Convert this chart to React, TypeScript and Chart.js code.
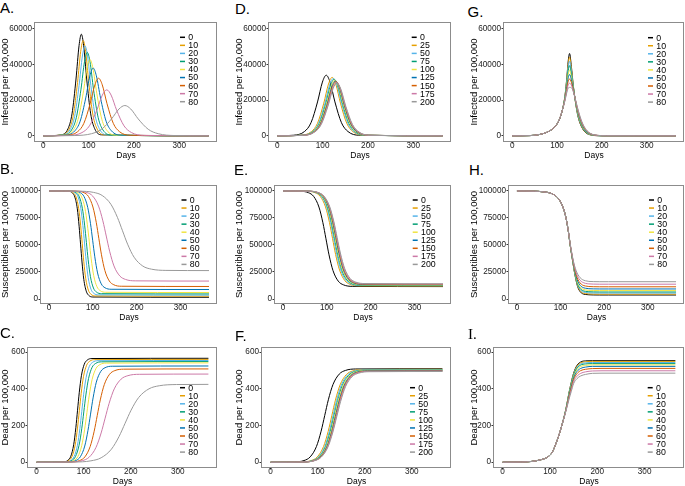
import React, { useEffect, useRef } from "react";
import { Chart, registerables } from "chart.js";

Chart.register(...registerables);

const FONT = "'Liberation Sans', Arial, Helvetica, sans-serif";

const seriesColors = ["#000000", "#E69F00", "#56B4E9", "#009E73", "#F0E442", "#0072B2", "#D55E00", "#CC79A7", "#999999"];
const reductionLabels = ["0", "10", "20", "30", "40", "50", "60", "70", "80"];
const delayLabels = ["0", "25", "50", "75", "100", "125", "150", "175", "200"];
const dayTicks = [0, 100, 200, 300];
const infectedTicks = [0, 20000, 40000, 60000];
const susceptibleTicks = [0, 25000, 50000, 75000, 100000];
const deadTicks = [0, 200, 400, 600];

// Panel A: infected, [day, value]
const infectedA = [
  [[0,0],[39.9,564],[54.6,4030],[63.4,12323],[72.2,31869],[78.9,50548],[84,57000],[89.1,50548],[95.8,31869],[104.6,12323],[113.4,4030],[128.1,564],[365,0]],
  [[0,0],[41.5,530],[57,3782],[66.3,11567],[75.6,29912],[82.6,47444],[88,53500],[93.4,47444],[100.4,29912],[109.7,11567],[119,3782],[134.5,530],[365,0]],
  [[0,0],[43.1,500],[59.4,3570],[69.2,10918],[79,28235],[86.3,44783],[92,50500],[97.7,44783],[105,28235],[114.8,10918],[124.6,3570],[140.9,500],[365,0]],
  [[0,0],[45.1,463],[62.4,3309],[72.8,10118],[83.2,26166],[90.9,41502],[97,46800],[103.1,41502],[110.8,26166],[121.2,10118],[131.6,3309],[148.9,463],[365,0]],
  [[0,0],[46.9,424],[65.6,3026],[76.8,9253],[88,23929],[96.5,37955],[103,42800],[109.5,37955],[118,23929],[129.2,9253],[140.4,3026],[159.1,424],[365,0]],
  [[0,0],[48.8,376],[69.2,2687],[81.4,8216],[93.7,21246],[102.9,33698],[110,38000],[117.1,33698],[126.3,21246],[138.6,8216],[150.8,2687],[171.2,376],[365,0]],
  [[0,0],[52.4,320],[75.6,2284],[89.5,6983],[103.4,18059],[113.9,28644],[122,32300],[130.1,28644],[140.6,18059],[154.5,6983],[168.4,2284],[191.6,320],[365,0]],
  [[0,0],[58.1,255],[85.4,1824],[101.8,5578],[118.2,14425],[130.4,22879],[140,25800],[149.6,22879],[161.8,14425],[178.2,5578],[194.6,1824],[221.9,255],[365,0]],
  [[0,0],[69.6,168],[106.4,1202],[128.5,3675],[150.6,9505],[167.1,15076],[180,17000],[192.9,15076],[209.4,9505],[231.5,3675],[253.6,1202],[290.4,168],[365,0]],
];

// Panel B: susceptibles
const susceptibleB = [
  [[0,100000],[44.1,99757],[53.4,98229],[59,94362],[64.6,83469],[68.7,67351],[72,50800],[75.3,34249],[79.4,18131],[85,7238],[90.6,3371],[99.9,1843],[365,1600]],
  [[0,100000],[45.8,99759],[55.8,98247],[61.8,94419],[67.8,83637],[72.3,67683],[75.8,51300],[79.3,34917],[83.8,18963],[89.8,8181],[95.8,4353],[105.8,2841],[365,2600]],
  [[0,100000],[49.5,99762],[60,98265],[66.3,94476],[72.6,83805],[77.3,68014],[81,51800],[84.7,35586],[89.4,19795],[95.7,9124],[102,5335],[112.5,3838],[365,3600]],
  [[0,100000],[50.8,99765],[62.3,98285],[69.2,94539],[76.1,83990],[81.3,68379],[85.3,52350],[89.3,36321],[94.5,20710],[101.4,10161],[108.3,6415],[119.8,4935],[365,4700]],
  [[0,100000],[54.4,99768],[66.9,98308],[74.4,94614],[81.9,84208],[87.5,68811],[91.9,53000],[96.3,37189],[101.9,21792],[109.4,11386],[116.9,7692],[129.4,6232],[365,6000]],
  [[0,100000],[57.6,99775],[71.6,98358],[80,94774],[88.4,84678],[94.7,69740],[99.6,54400],[104.5,39060],[110.8,24122],[119.2,14026],[127.6,10442],[141.6,9025],[365,8800]],
  [[0,100000],[62.8,99782],[79.8,98409],[90,94935],[100.2,85149],[107.9,70669],[113.8,55800],[119.7,40931],[127.4,26451],[137.6,16665],[147.8,13191],[164.8,11818],[365,11600]],
  [[0,100000],[64.6,99794],[86.6,98499],[99.8,95221],[113,85989],[122.9,72328],[130.6,58300],[138.3,44272],[148.2,30611],[161.4,21379],[174.6,18101],[196.6,16806],[365,16600]],
  [[0,100000],[68.7,99818],[101.7,98673],[121.5,95777],[141.3,87618],[156.1,75546],[167.7,63150],[179.3,50754],[194.1,38682],[213.9,30523],[233.7,27627],[266.7,26482],[365,26300]],
];

// Panel C: dead
const deadC = [
  [[0,0],[56.4,1.4],[66.6,10.2],[72.7,32.4],[78.8,95.1],[83.4,187.8],[87,283],[90.6,378.2],[95.2,470.9],[101.3,533.6],[107.4,555.8],[117.6,564.6],[365,566]],
  [[0,0],[57.8,1.4],[68.8,10.1],[75.4,32.1],[82,94.1],[86.9,185.8],[90.8,280],[94.7,374.2],[99.6,465.9],[106.2,527.9],[112.8,549.9],[123.8,558.6],[365,560]],
  [[0,0],[61.5,1.4],[73,10],[79.9,31.7],[86.8,93.1],[92,183.8],[96,277],[100,370.2],[105.2,460.9],[112.1,522.3],[119,544],[130.5,552.6],[365,554]],
  [[0,0],[62.5,1.4],[75.1,9.9],[82.7,31.4],[90.2,92.1],[95.9,181.8],[100.3,274],[104.7,366.2],[110.4,455.9],[117.9,516.6],[125.5,538.1],[138.1,546.6],[365,548]],
  [[0,0],[65.8,1.3],[79.5,9.7],[87.7,31],[95.9,90.9],[102.1,179.5],[106.9,270.5],[111.7,361.5],[117.9,450.1],[126.1,510],[134.3,531.3],[148,539.7],[365,541]],
  [[0,0],[68.4,1.3],[83.8,9.4],[93,30],[102.3,88],[109.2,173.9],[114.6,262],[120,350.1],[126.9,436],[136.2,494],[145.4,514.6],[160.8,522.7],[365,524]],
  [[0,0],[72.7,1.3],[91.4,9.1],[102.6,29.1],[113.8,85.3],[122.3,168.6],[128.8,254],[135.3,339.4],[143.8,422.7],[155,478.9],[166.2,498.9],[184.9,506.7],[365,508]],
  [[0,0],[73,1.2],[97.2,8.6],[111.7,27.5],[126.2,80.6],[137.1,159.3],[145.6,240],[154.1,320.7],[165,399.4],[179.5,452.5],[194,471.4],[218.2,478.8],[365,480]],
  [[0,0],[79.1,1],[115.4,7.6],[137.2,24.3],[159,71.2],[175.3,140.7],[188,212],[200.7,283.3],[217,352.8],[238.8,399.7],[260.6,416.4],[296.9,423],[365,424]],
];

// Panel D: infected (delay)
const infectedD = [
  [[0,0],[36,337],[60,2404],[74.4,7351],[88.8,19009],[99.6,30151],[108,34000],[116.4,30151],[127.2,19009],[141.6,7351],[156,2404],[180,337],[365,0]],
  [[0,0],[52,325],[75,2319],[88.8,7091],[102.6,18338],[113,29087],[121,32800],[129,29087],[139.4,18338],[153.2,7091],[167,2319],[190,325],[365,0]],
  [[0,0],[53.9,319],[77.1,2277],[91,6962],[104.9,18003],[115.4,28555],[123.5,32200],[131.6,28555],[142.1,18003],[156,6962],[169.9,2277],[193.1,319],[365,0]],
  [[0,0],[55,314],[78.5,2241],[92.6,6854],[106.7,17723],[117.3,28112],[125.5,31700],[133.7,28112],[144.3,17723],[158.4,6854],[172.5,2241],[196,314],[365,0]],
  [[0,0],[55.6,309],[79.4,2206],[93.7,6745],[108,17444],[118.7,27668],[127,31200],[135.3,27668],[146,17444],[160.3,6745],[174.6,2206],[198.4,309],[365,0]],
  [[0,0],[56.5,305],[80.5,2178],[94.9,6659],[109.3,17220],[120.1,27313],[128.5,30800],[136.9,27313],[147.7,17220],[162.1,6659],[176.5,2178],[200.5,305],[365,0]],
  [[0,0],[56.9,301],[81.1,2149],[95.6,6572],[110.1,16997],[121,26959],[129.5,30400],[138,26959],[148.9,16997],[163.4,6572],[177.9,2149],[202.1,301],[365,0]],
  [[0,0],[57.3,297],[81.7,2121],[96.3,6486],[111,16773],[122,26604],[130.5,30000],[139,26604],[150,16773],[164.7,6486],[179.3,2121],[203.7,297],[365,0]],
  [[0,0],[57.7,294],[82.3,2100],[97.1,6421],[111.8,16605],[122.9,26338],[131.5,29700],[140.1,26338],[151.2,16605],[165.9,6421],[180.7,2100],[205.3,294],[365,0]],
];

// Panel E: susceptibles (delay)
const susceptibleE = [
  [[0,100000],[38,99781],[58,98407],[70,94929],[82,85132],[91,70636],[98,55750],[105,40864],[114,26368],[126,16571],[138,13093],[158,11719],[365,11500]],
  [[0,100000],[53,99783],[73,98416],[85,94958],[97,85216],[106,70802],[113,56000],[120,41198],[129,26784],[141,17042],[153,13584],[173,12217],[365,12000]],
  [[0,100000],[55.5,99783],[75.5,98421],[87.5,94975],[99.5,85266],[108.5,70901],[115.5,56150],[122.5,41399],[131.5,27034],[143.5,17325],[155.5,13879],[175.5,12517],[365,12300]],
  [[0,100000],[56.9,99784],[77.1,98427],[89.2,94992],[101.3,85317],[110.4,71001],[117.5,56300],[124.6,41599],[133.7,27283],[145.8,17608],[157.9,14173],[178.1,12816],[365,12600]],
  [[0,100000],[57.8,99785],[78.2,98432],[90.4,95009],[102.7,85367],[111.9,71100],[119,56450],[126.1,41800],[135.3,27533],[147.6,17891],[159.8,14468],[180.2,13115],[365,12900]],
  [[0,100000],[58.7,99786],[79.3,98438],[91.7,95026],[104,85418],[113.3,71198],[120.5,56600],[127.7,42000],[137,27782],[149.3,18174],[161.7,14762],[182.3,13414],[365,13200]],
  [[0,100000],[59.1,99786],[79.9,98443],[92.4,95044],[104.9,85468],[114.2,71299],[121.5,56750],[128.8,42201],[138.1,28032],[150.6,18456],[163.1,15057],[183.9,13714],[365,13500]],
  [[0,100000],[59.5,99787],[80.5,98448],[93.1,95061],[105.7,85518],[115.2,71399],[122.5,56900],[129.9,42401],[139.3,28282],[151.9,18739],[164.5,15352],[185.5,14013],[365,13800]],
  [[0,100000],[59.9,99788],[81.1,98454],[93.8,95078],[106.5,85569],[116.1,71498],[123.5,57050],[130.9,42602],[140.5,28531],[153.2,19022],[165.9,15646],[187.1,14312],[365,14100]],
];

// Panel F: dead (delay)
const deadF = [
  [[0,0],[49,1.3],[71,9.2],[84.2,29.2],[97.4,85.5],[107.3,168.9],[115,254.5],[122.7,340.1],[132.6,423.5],[145.8,479.8],[159,499.8],[181,507.7],[365,509]],
  [[0,0],[64,1.2],[86,9.1],[99.2,29],[112.4,85],[122.3,167.9],[130,253],[137.7,338.1],[147.6,421],[160.8,477],[174,496.9],[196,504.7],[365,506]],
  [[0,0],[66.5,1.2],[88.5,9.1],[101.7,28.9],[114.9,84.7],[124.8,167.2],[132.5,252],[140.2,336.8],[150.1,419.3],[163.3,475.1],[176.5,494.9],[198.5,502.8],[365,504]],
  [[0,0],[67.9,1.2],[90.1,9],[103.4,28.8],[116.7,84.3],[126.7,166.6],[134.5,251],[142.3,335.4],[152.3,417.7],[165.6,473.2],[178.9,493],[201.1,500.8],[365,502]],
  [[0,0],[68.8,1.2],[91.2,9],[104.6,28.7],[118.1,84.2],[128.2,166.2],[136,250.5],[143.8,334.8],[153.9,416.8],[167.4,472.3],[180.8,492],[203.2,499.8],[365,501]],
  [[0,0],[69.4,1.2],[92.1,9],[105.7,28.6],[119.3,83.8],[129.6,165.6],[137.5,249.5],[145.4,333.4],[155.7,415.2],[169.3,470.4],[182.9,490],[205.6,497.8],[365,499]],
  [[0,0],[69.8,1.2],[92.7,8.9],[106.4,28.5],[120.2,83.5],[130.5,164.9],[138.5,248.5],[146.5,332.1],[156.8,413.5],[170.6,468.5],[184.3,488.1],[207.2,495.8],[365,497]],
  [[0,0],[70.2,1.2],[93.3,8.9],[107.2,28.4],[121,83.3],[131.4,164.6],[139.5,248],[147.6,331.4],[158,412.7],[171.8,467.6],[185.7,487.1],[208.8,494.8],[365,496]],
  [[0,0],[70.6,1.2],[93.9,8.9],[107.9,28.3],[121.9,83],[132.3,163.9],[140.5,247],[148.7,330.1],[159.1,411],[173.1,465.7],[187.1,485.1],[210.4,492.8],[365,494]],
];

// Panels G, H, I share one day grid
const daysGHI = [0, 40, 60, 80, 95, 105, 112, 118, 122, 125, 128, 132, 136, 140, 145, 150, 157, 165, 175, 190, 210, 365];

const infectedG = [
  [0,150,700,2300,5000,9000,14500,23000,33000,42000,46200,39000,29000,21000,13000,8000,4000,1600,500,80,10,0],
  [0,150,700,2300,5000,9000,14500,22700,32100,40400,44200,37700,28600,21050,13400,8400,4300,1800,580,100,14,0],
  [0,150,700,2300,5000,9000,14500,22300,31100,38600,41900,36300,28100,21100,13800,8900,4700,2030,680,130,19,0],
  [0,150,700,2300,5000,9000,14500,21900,30000,36600,39400,34700,27600,21200,14250,9430,5070,2280,790,160,24,0],
  [0,150,700,2300,5000,9000,14500,21500,28800,34600,36900,33100,27000,21250,14700,9960,5470,2530,890,190,30,0],
  [0,150,700,2300,5000,9000,14500,21100,27700,32600,34400,31500,26500,21300,15200,10500,5860,2780,1000,220,35,0],
  [0,150,700,2300,5000,9000,14500,20700,26600,30600,31900,30000,26000,21400,15600,11000,6260,3030,1100,250,40,0],
  [0,150,700,2300,5000,9000,14500,20400,25500,28600,29500,28500,25500,21400,16100,11500,6640,3270,1200,270,45,0],
  [0,150,700,2300,5000,9000,14500,20000,24500,26800,27200,27000,25000,21500,16500,12000,7000,3500,1300,300,50,0],
];

const susceptibleH = [
  [100000,99800,99200,97500,93000,85500,76000,62300,50000,42000,34500,24500,16500,10500,6800,5000,4200,3900,3750,3700,3700,3700],
  [100000,99800,99200,97500,93000,85500,76000,62300,50100,42200,34700,24900,17100,11300,7640,5850,5030,4710,4550,4500,4500,4500],
  [100000,99800,99200,97500,93000,85500,76000,62400,50200,42400,35000,25400,17900,12250,8680,6900,6050,5710,5550,5500,5500,5500],
  [100000,99800,99200,97500,93000,85500,76000,62400,50300,42600,35300,26000,18700,13200,9740,7960,7100,6730,6570,6500,6500,6500],
  [100000,99800,99200,97500,93000,85500,76000,62500,50500,42800,35700,26700,19700,14500,11100,9330,8430,8030,7860,7800,7800,7800],
  [100000,99800,99200,97500,93000,85500,76000,62500,50700,43100,36100,27500,20800,15960,12670,10900,9980,9540,9370,9300,9300,9300],
  [100000,99800,99200,97500,93000,85500,76000,62600,50900,43500,36700,28500,22400,17900,14800,13000,12050,11560,11380,11300,11300,11300],
  [100000,99800,99200,97500,93000,85500,76000,62700,51200,44000,37300,29800,24200,20300,17300,15600,14500,14000,13800,13700,13700,13700],
  [100000,99800,99200,97500,93000,85500,76000,62800,51500,44500,38000,31000,26000,22500,19700,18000,16900,16300,16100,16000,16000,16000],
];

const deadI = [
  [0,1,4,13,28,55,97,140,173,200,228,270,320,376,435,485,527,546,552,553,553,553],
  [0,1,4,13,28,55,97,140,173,200,228,269,319,374,432,481,522,541,547,549,549,549],
  [0,1,4,13,28,55,97,140,173,200,228,269,317,371,428,477,516,535,541,543,543,543],
  [0,1,4,13,28,55,97,140,173,200,228,268,315,368,424,472,511,529,535,537,537,537],
  [0,1,4,13,28,55,97,140,173,200,227,267,313,364,418,466,503,521,527,530,530,530],
  [0,1,4,13,28,55,97,140,173,200,227,266,311,360,412,459,494,511,518,522,522,522],
  [0,1,4,13,28,55,97,140,173,200,227,265,308,354,404,450,482,499,506,510,511,511],
  [0,1,4,13,28,55,97,140,173,200,226,263,304,347,394,439,468,484,492,497,498,498],
  [0,1,4,13,28,55,97,140,173,200,226,262,300,340,385,428,455,470,478,484,485,485],
];

const onGrid = (rows: number[][]) => rows.map((row) => row.map((v, i) => [daysGHI[i], v]));

interface PanelDef {
  letter: string;
  serif?: boolean;
  letterX: number;
  letterY: number;
  labels: string[];
  series: number[][][];
  yTicks: number[];
  yMin: number;
  yMax: number;
  yTitle: string;
  colLeft: number;
  box: [number, number, number, number];
  legendDx: number;
  legendDy: number;
}

const INF: [number, number] = [-2900, 63300];
const SUS: [number, number] = [-3700, 104600];
const DEAD: [number, number] = [-26, 622];

const panels: PanelDef[] = [
  { letter: "A.", letterX: 0, letterY: 0, labels: reductionLabels, series: infectedA, yTicks: infectedTicks, yMin: INF[0], yMax: INF[1], yTitle: "Infected per 100,000", colLeft: 0, box: [35, 23, 217, 141], legendDx: 37, legendDy: 14.3 },
  { letter: "B.", letterX: 0, letterY: 161.3, labels: reductionLabels, series: susceptibleB, yTicks: susceptibleTicks, yMin: SUS[0], yMax: SUS[1], yTitle: "Susceptibles per 100,000", colLeft: 0, box: [41, 186, 217, 303], legendDx: 35.5, legendDy: 14 },
  { letter: "C.", letterX: 0, letterY: 324.7, labels: reductionLabels, series: deadC, yTicks: deadTicks, yMin: DEAD[0], yMax: DEAD[1], yTitle: "Dead per 100,000", colLeft: 0, box: [28, 348, 217, 467], legendDx: 37, legendDy: 39.7 },
  { letter: "D.", letterX: 235, letterY: 1.3, labels: delayLabels, series: infectedD, yTicks: infectedTicks, yMin: INF[0], yMax: INF[1], yTitle: "Infected per 100,000", colLeft: 234, box: [269, 23, 451, 141], legendDx: 39.3, legendDy: 14.3 },
  { letter: "E.", letterX: 234, letterY: 162.3, labels: delayLabels, series: susceptibleE, yTicks: susceptibleTicks, yMin: SUS[0], yMax: SUS[1], yTitle: "Susceptibles per 100,000", colLeft: 234, box: [275, 186, 451, 303], legendDx: 38.3, legendDy: 14 },
  { letter: "F.", letterX: 235, letterY: 328, labels: delayLabels, series: deadF, yTicks: deadTicks, yMin: DEAD[0], yMax: DEAD[1], yTitle: "Dead per 100,000", colLeft: 234, box: [262, 348, 451, 467], legendDx: 41, legendDy: 39.7 },
  { letter: "G.", letterX: 467.5, letterY: 4, labels: reductionLabels, series: onGrid(infectedG), yTicks: infectedTicks, yMin: INF[0], yMax: INF[1], yTitle: "Infected per 100,000", colLeft: 469, box: [504, 23, 684, 141], legendDx: 36, legendDy: 14.7 },
  { letter: "H.", letterX: 469, letterY: 162.3, labels: reductionLabels, series: onGrid(susceptibleH), yTicks: susceptibleTicks, yMin: SUS[0], yMax: SUS[1], yTitle: "Susceptibles per 100,000", colLeft: 469, box: [509, 186, 684, 303], legendDx: 35, legendDy: 14 },
  { letter: "I.", serif: true, letterX: 468, letterY: 327.4, labels: reductionLabels, series: onGrid(deadI), yTicks: deadTicks, yMin: DEAD[0], yMax: DEAD[1], yTitle: "Dead per 100,000", colLeft: 469, box: [494, 348, 684, 467], legendDx: 36.3, legendDy: 39.7 },
];

const PAD_TOP = 7;
const X_AXIS_H = 20;

const framePlugin = {
  id: "frame",
  afterDatasetsDraw(chart: any) {
    const { ctx, chartArea } = chart;
    const l = Math.round(chartArea.left) - 0.5;
    const t = Math.round(chartArea.top) - 0.5;
    const r = Math.round(chartArea.right) - 0.5;
    const b = Math.round(chartArea.bottom) + 0.5;
    ctx.save();
    ctx.strokeStyle = "#8c8c8c";
    ctx.lineWidth = 1;
    ctx.strokeRect(l, t, r - l, b - t);
    ctx.restore();
  },
};

const legendPlugin = {
  id: "panelLegend",
  afterDraw(chart: any, _args: any, opts: any) {
    const { ctx, chartArea } = chart;
    const x0 = chartArea.right - opts.dx;
    let y = chartArea.top + opts.dy;
    ctx.save();
    ctx.font = `8.8px ${FONT}`;
    ctx.textBaseline = "middle";
    ctx.textAlign = "left";
    chart.data.datasets.forEach((ds: any) => {
      ctx.strokeStyle = ds.borderColor;
      ctx.lineWidth = 1.5;
      ctx.beginPath();
      ctx.moveTo(x0, y);
      ctx.lineTo(x0 + 5, y);
      ctx.stroke();
      ctx.fillStyle = "#000";
      ctx.fillText(ds.label, x0 + 8.3, y + 0.5);
      y += 8.05;
    });
    ctx.restore();
  },
};

function PanelChart({ p }: { p: PanelDef }) {
  const ref = useRef<HTMLCanvasElement | null>(null);
  const [bl, bt, br, bb] = p.box;
  const canvasTop = bt - PAD_TOP;
  const width = br + 1 - p.colLeft;
  const height = bb + X_AXIS_H - canvasTop;

  useEffect(() => {
    if (!ref.current) return;
    const n = p.series.length;
    const chart = new Chart(ref.current, {
      type: "line",
      data: {
        datasets: p.series.map((pts, i) => ({
          label: p.labels[i],
          data: pts.map(([x, y]) => ({ x, y })),
          borderColor: seriesColors[i],
          backgroundColor: seriesColors[i],
          borderWidth: 1,
          pointRadius: 0,
          fill: false,
          cubicInterpolationMode: "monotone",
          order: n - 1 - i,
        })),
      },
      options: {
        animation: false,
        responsive: false,
        maintainAspectRatio: false,
        devicePixelRatio: 1,
        events: [],
        layout: { padding: { top: PAD_TOP, right: 1, bottom: 0, left: 0 } },
        plugins: {
          legend: { display: false },
          tooltip: { enabled: false },
          panelLegend: { dx: p.legendDx, dy: p.legendDy },
        } as any,
        scales: {
          x: {
            type: "linear",
            min: -18.25,
            max: 383.25,
            afterBuildTicks: (s: any) => {
              s.ticks = dayTicks.map((v) => ({ value: v }));
            },
            afterFit: (s: any) => {
              s.height = X_AXIS_H;
            },
            grid: { drawOnChartArea: false, drawTicks: true, tickLength: 2.5, tickColor: "#333", lineWidth: 1 },
            border: { display: false },
            ticks: {
              padding: -1.5,
              autoSkip: false,
              maxRotation: 0,
              color: "#222",
              font: { family: FONT, size: 8.2, lineHeight: 1 },
              callback: (v: any) => String(v),
            },
            title: { display: true, text: "Days", color: "#000", padding: 0, font: { family: FONT, size: 8.5 } },
          },
          y: {
            type: "linear",
            min: p.yMin,
            max: p.yMax,
            afterBuildTicks: (s: any) => {
              s.ticks = p.yTicks.map((v) => ({ value: v }));
            },
            afterFit: (s: any) => {
              s.width = bl - p.colLeft;
            },
            grid: { drawOnChartArea: false, drawTicks: true, tickLength: 2.5, tickColor: "#333", lineWidth: 1 },
            border: { display: false },
            ticks: {
              padding: 0.5,
              autoSkip: false,
              color: "#222",
              font: { family: FONT, size: 8.2 },
              callback: (v: any) => String(v),
            },
            title: { display: true, text: p.yTitle, color: "#000", padding: 0, font: { family: FONT, size: 9.5 } },
          },
        },
      } as any,
      plugins: [framePlugin, legendPlugin],
    });
    return () => chart.destroy();
  }, [p]);

  return (
    <>
      <div
        style={{
          position: "absolute",
          left: p.letterX,
          top: p.letterY,
          fontFamily: p.serif ? "'Liberation Serif', 'Times New Roman', serif" : FONT,
          fontSize: 15,
          lineHeight: "15px",
          color: "#000",
          whiteSpace: "nowrap",
        }}
      >
        {p.letter}
      </div>
      <canvas
        ref={ref}
        width={width}
        height={height}
        style={{ position: "absolute", left: p.colLeft, top: canvasTop, width, height }}
      />
    </>
  );
}

export default function App() {
  return (
    <div
      style={{
        position: "fixed",
        left: 0,
        top: 0,
        width: 685,
        height: 486,
        overflow: "hidden",
        background: "#fff",
      }}
    >
      {panels.map((p) => (
        <PanelChart key={p.letter} p={p} />
      ))}
    </div>
  );
}
